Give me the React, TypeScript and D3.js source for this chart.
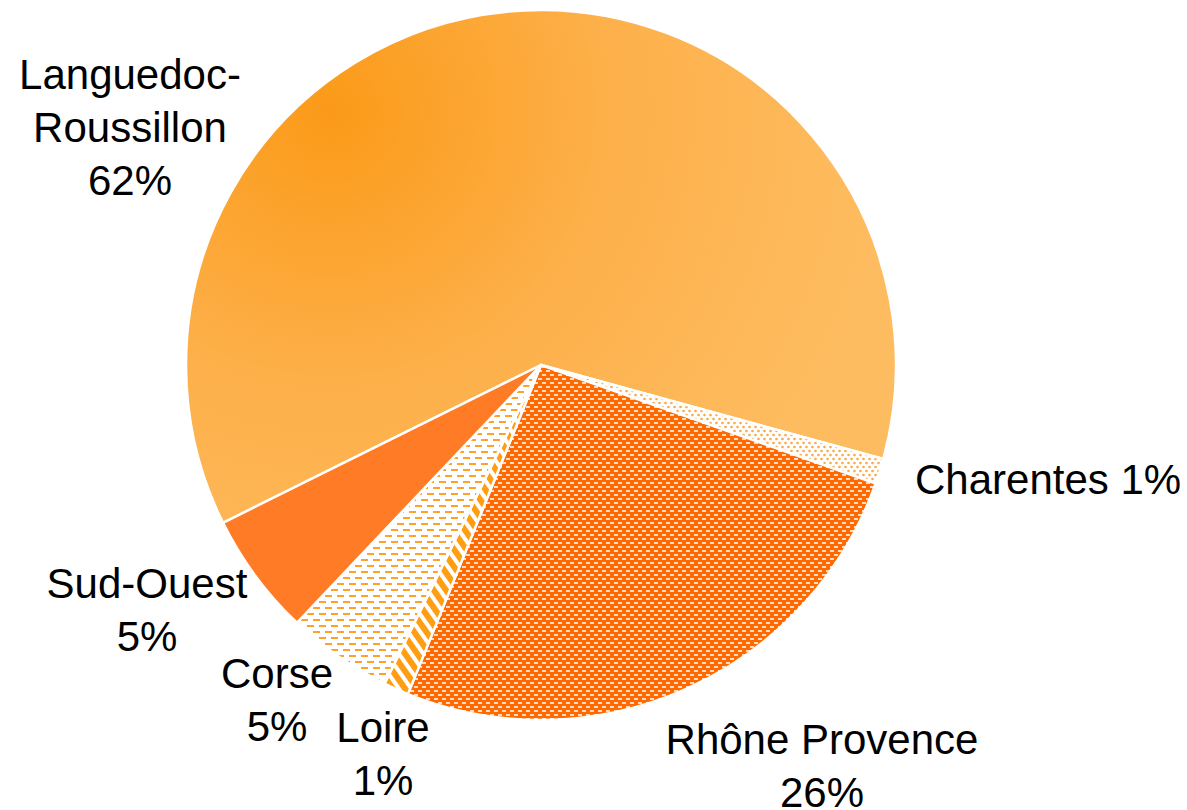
import React from "react";
import * as d3 from "d3";

const regions = ["Languedoc-Roussillon", "Charentes", "Rhône Provence", "Loire", "Corse", "Sud-Ouest"];
const shares = [61.6, 1.15, 25.7, 1.15, 4.8, 5.6];
const labelLines = [
  ["Languedoc-", "Roussillon", "62%"],
  ["Charentes 1%"],
  ["Rhône Provence", "26%"],
  ["Loire", "1%"],
  ["Corse", "5%"],
  ["Sud-Ouest", "5%"],
];

// layout (label anchor positions, px)
const labelPos: [number, number, string][] = [
  [130, 89, "middle"],
  [915, 494, "start"],
  [822, 754, "middle"],
  [383, 742, "middle"],
  [277, 688, "middle"],
  [147, 598, "middle"],
];
const fills = [
  "url(#gLR)",
  "url(#pDots)",
  "url(#pBrick)",
  "url(#pStripe)",
  "url(#pDash)",
  "#FF7B25",
];

const W = 1187;
const H = 810;
const cx = 541;
const cy = 365;
const R = 355;
const startDeg = 243.6;

export default function App() {
  const data = regions.map((r, i) => ({ r, v: shares[i], i }));
  const start = (startDeg * Math.PI) / 180;
  const pie = d3
    .pie<any>()
    .sort(null)
    .value((d) => d.v)
    .startAngle(start)
    .endAngle(start + 2 * Math.PI);
  const arcs = pie(data);
  const arc = d3.arc<any>().innerRadius(0).outerRadius(R);
  const lh = 53;
  return (
    <svg
      width={W}
      height={H}
      style={{ position: "absolute", left: 0, top: 0, background: "#fff" }}
    >
      <defs>
        <radialGradient id="gLR" gradientUnits="userSpaceOnUse" cx={330 - cx} cy={110 - cy} r={560}>
          <stop offset="0" stopColor="#FB9A18" />
          <stop offset="0.5" stopColor="#FDB04A" />
          <stop offset="1" stopColor="#FEBC60" />
        </radialGradient>
        <pattern id="pDots" width={6} height={8} patternUnits="userSpaceOnUse">
          <rect width={6} height={8} fill="#fff" />
          <circle cx={1.5} cy={2} r={1.3} fill="#FAA848" />
          <circle cx={4.5} cy={6} r={1.3} fill="#FAA848" />
        </pattern>
        <pattern id="pBrick" width={8} height={8} patternUnits="userSpaceOnUse">
          <rect width={8} height={8} fill="#FF6A00" />
          <rect x={1} y={1} width={4} height={2} fill="#FFDCC4" />
          <rect x={5} y={5} width={4} height={2} fill="#FFDCC4" />
          <rect x={-3} y={5} width={4} height={2} fill="#FFDCC4" />
        </pattern>
        <pattern
          id="pStripe"
          width={10}
          height={10}
          patternUnits="userSpaceOnUse"
          patternTransform="rotate(-35)"
        >
          <rect width={10} height={10} fill="#fff" />
          <rect width={6} height={10} fill="#FF9E12" />
        </pattern>
        <pattern id="pDash" width={12} height={12} patternUnits="userSpaceOnUse">
          <rect width={12} height={12} fill="#fff" />
          <rect x={0} y={2} width={7} height={2} fill="#FFA126" />
          <rect x={6} y={8} width={7} height={2} fill="#FFA126" />
          <rect x={-6} y={8} width={7} height={2} fill="#FFA126" />
        </pattern>
      </defs>
      <g transform={`translate(${cx},${cy})`}>
        {arcs.map((a, i) => (
          <path key={i} d={arc(a) as string} fill={fills[i]} stroke="#fff" strokeWidth={2.5} strokeLinejoin="round" />
        ))}
      </g>
      <g fontFamily="'Liberation Sans', Arial, sans-serif" fontSize={42} fill="#000">
        {labelLines.map((lines, i) => (
          <text key={i} x={labelPos[i][0]} y={labelPos[i][1]} textAnchor={labelPos[i][2] as any}>
            {lines.map((l, j) => (
              <tspan key={j} x={labelPos[i][0]} y={labelPos[i][1] + j * lh}>
                {l}
              </tspan>
            ))}
          </text>
        ))}
      </g>
    </svg>
  );
}
